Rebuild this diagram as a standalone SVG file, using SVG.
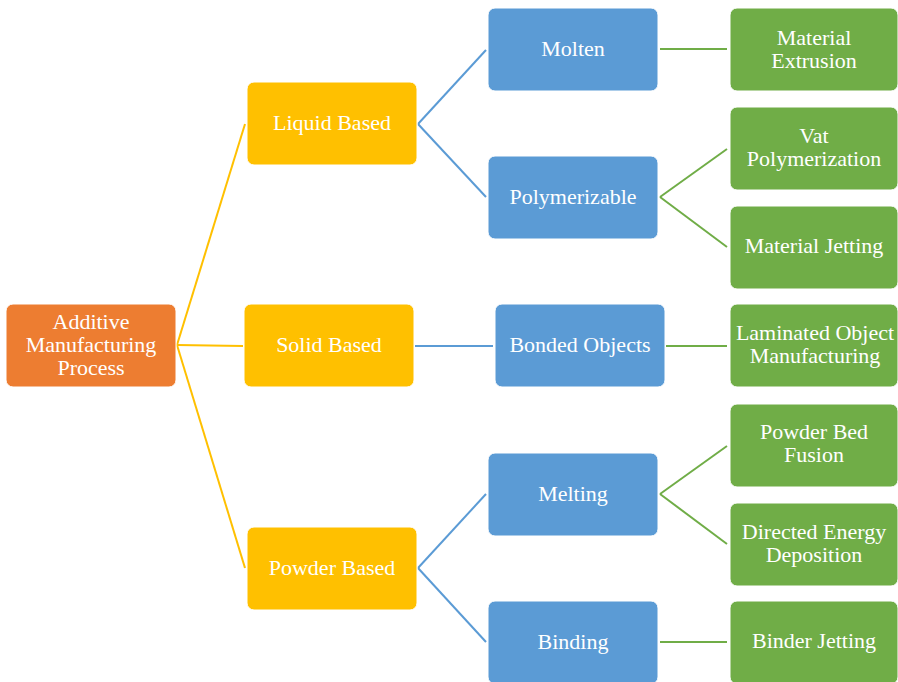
<svg xmlns="http://www.w3.org/2000/svg" width="898" height="682" viewBox="0 0 898 682">
<style>
rect{rx:7px;ry:7px;stroke:#fff;stroke-width:1}
.o{fill:#ED7D31}.y{fill:#FFC000}.b{fill:#5B9BD5}.g{fill:#70AD47}
text{font-family:"Liberation Serif","Times New Roman",serif;font-size:22px;fill:#fff;text-anchor:middle}
.cy{stroke:#FFC000}.cb{stroke:#5B9BD5}.cg{stroke:#70AD47}
#connectors line{stroke-width:2}
</style>
<rect width="898" height="682" fill="#fff" style="stroke:none"/>
<g id="connectors">
<line class="cy" x1="177" y1="345" x2="245" y2="124"/>
<line class="cy" x1="177" y1="345" x2="243" y2="346"/>
<line class="cy" x1="177" y1="345" x2="245" y2="568"/>
<line class="cb" x1="418" y1="124" x2="486" y2="50"/>
<line class="cb" x1="418" y1="124" x2="486" y2="197"/>
<line class="cb" x1="415" y1="346" x2="493" y2="346"/>
<line class="cb" x1="418" y1="568" x2="486" y2="494"/>
<line class="cb" x1="418" y1="568" x2="486" y2="642"/>
<line class="cg" x1="660" y1="49" x2="727" y2="49"/>
<line class="cg" x1="660" y1="197" x2="727" y2="149"/>
<line class="cg" x1="660" y1="197" x2="727" y2="247"/>
<line class="cg" x1="666" y1="346" x2="727" y2="346"/>
<line class="cg" x1="660" y1="494" x2="727" y2="446"/>
<line class="cg" x1="660" y1="494" x2="727" y2="544"/>
<line class="cg" x1="660" y1="642" x2="727" y2="642"/>
</g>
<g id="root"><rect class="o" x="6" y="304" width="170" height="83"/><text x="91" y="329">Additive</text><text x="91" y="352">Manufacturing</text><text x="91" y="375">Process</text></g>
<g id="liquid"><rect class="y" x="247" y="82" width="170" height="83"/><text x="332" y="130">Liquid Based</text></g>
<g id="solid"><rect class="y" x="244" y="304" width="170" height="83"/><text x="329" y="352">Solid Based</text></g>
<g id="powder"><rect class="y" x="247" y="527" width="170" height="83"/><text x="332" y="575">Powder Based</text></g>
<g id="molten"><rect class="b" x="488" y="8" width="170" height="83"/><text x="573" y="56">Molten</text></g>
<g id="polymerizable"><rect class="b" x="488" y="156" width="170" height="83"/><text x="573" y="204">Polymerizable</text></g>
<g id="bonded"><rect class="b" x="495" y="304" width="170" height="83"/><text x="580" y="352">Bonded Objects</text></g>
<g id="melting"><rect class="b" x="488" y="453" width="170" height="83"/><text x="573" y="501">Melting</text></g>
<g id="binding"><rect class="b" x="488" y="601" width="170" height="83"/><text x="573" y="649">Binding</text></g>
<g id="extrusion"><rect class="g" x="730" y="8" width="168" height="83"/><text x="814" y="45">Material</text><text x="814" y="68">Extrusion</text></g>
<g id="vat"><rect class="g" x="730" y="107" width="168" height="83"/><text x="814" y="143">Vat</text><text x="814" y="166">Polymerization</text></g>
<g id="jetting"><rect class="g" x="730" y="206" width="168" height="83"/><text x="814" y="253">Material Jetting</text></g>
<g id="laminated"><rect class="g" x="730" y="304" width="168" height="83"/><text x="815" y="340">Laminated Object</text><text x="815" y="363">Manufacturing</text></g>
<g id="pbf"><rect class="g" x="730" y="404" width="168" height="83"/><text x="814" y="439">Powder Bed</text><text x="814" y="462">Fusion</text></g>
<g id="ded"><rect class="g" x="730" y="503" width="168" height="83"/><text x="814" y="539">Directed Energy</text><text x="814" y="562">Deposition</text></g>
<g id="binder"><rect class="g" x="730" y="601" width="168" height="83"/><text x="814" y="648">Binder Jetting</text></g>
</svg>
